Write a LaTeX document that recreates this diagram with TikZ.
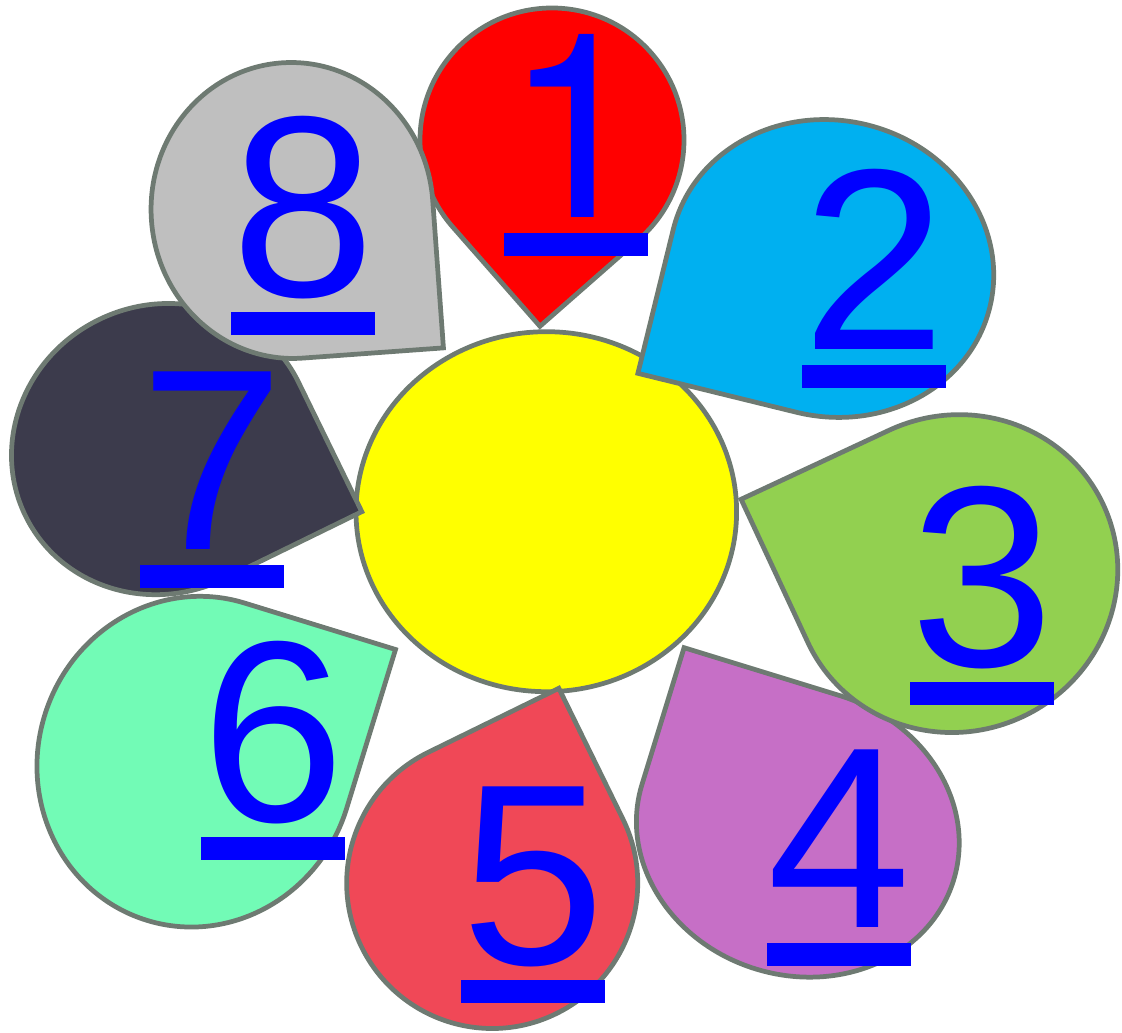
\documentclass[tikz,border=0pt]{standalone}
\usepackage{fontspec}
\setmainfont{Liberation Sans}
\newfontfamily\footlessfont{TeX Gyre Heros}
\definecolor{rimgray}{RGB}{110,122,114}
\definecolor{numblue}{RGB}{0,0,255}
\definecolor{discyellow}{RGB}{255,255,0}
\definecolor{petalred}{RGB}{255,0,0}
\definecolor{petalblue}{RGB}{0,176,240}
\definecolor{petalgreen}{RGB}{146,208,80}
\definecolor{petalpurple}{RGB}{198,111,198}
\definecolor{petalrose}{RGB}{240,72,87}
\definecolor{petalmint}{RGB}{114,251,182}
\definecolor{petaldark}{RGB}{60,59,76}
\definecolor{petalgray}{RGB}{191,191,191}
% digit with a thick bar under it (the 1 is taken from a face without a foot)
\newcommand{\ulnum}[1]{\ifnum#1=1 \footlessfont\fi
    \makebox[0pt][l]{\rule[-0.151em]{0.556em}{0.091em}}#1}

\begin{document}
\begin{tikzpicture}[x=0.02cm, y=0.02cm,
    rim/.style={draw=rimgray, line width=2.7pt},
    numlabel/.style={anchor=base west, inner sep=0pt, text=numblue,
                     font=\fontsize{147}{147}\selectfont}]
    \useasboundingbox (0,0) rectangle (1122,1033);
    % centre disc
    \draw[rim, fill=discyellow] (546.3,521.3) ellipse [x radius=190.3, y radius=180];
    % petals: centre x/centre y/rotation/a/b/colour, the tip sits at local (a,b)
    \foreach \cx/\cy/\rot/\a/\b/\col in {
        552/893/221.3/132/132/petalred,
        831.5/764.5/166.2/163/148/petalblue,
        797.8/200.7/72.9/143/163/petalpurple,
        955.6/459.4/115/158/163/petalgreen,
        492.2/150/26.1/145.5/145.5/petalrose,
        195.7/271.3/-17.1/158/166/petalmint,
        162/583.9/-63.95/144/152/petaldark,
        292.1/822.5/-85.85/148/141/petalgray}
        \draw[rim, fill=\col, shift={(\cx,\cy)}, rotate=\rot]
            (\a,\b) -- (0,\b) arc[start angle=90, end angle=360, x radius=\a, y radius=\b] -- cycle;
    % numbers
    \foreach \n/\x/\y in {1/504/815.5, 2/802/683.5, 3/910/366.5, 4/767/105.5,
                          5/461/68.5, 6/201/211.5, 7/140/483.5, 8/231/736.5}
        \node[numlabel] (num\n) at (\x,\y) {\ulnum{\n}};
\end{tikzpicture}
\end{document}
